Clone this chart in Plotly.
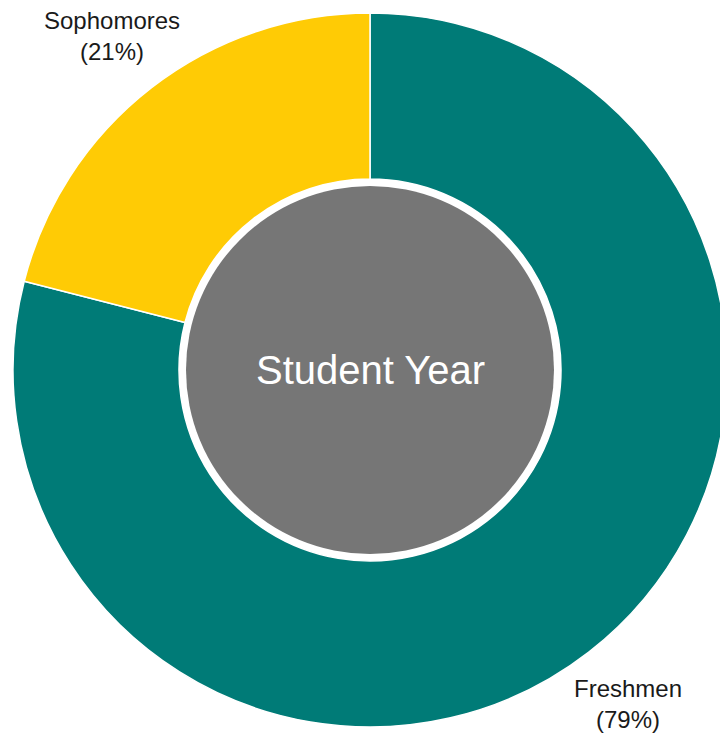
import plotly.graph_objects as go

labels = ["Freshmen", "Sophomores"]
values = [79, 21]
colors = ["#007B77", "#FFCB05"]
center_title = "Student Year"

# page has an 8px body margin; figure coordinates are page coordinates minus 8
OFF = 8
W, H = 720, 731
cx, cy, R = 370 - OFF, 370 - OFF, 357
hole_r = 191
inner_r = 184

fig = go.Figure(go.Pie(
    labels=labels,
    values=values,
    sort=False,
    direction="clockwise",
    rotation=0,
    hole=hole_r / R,
    marker=dict(colors=colors, line=dict(color="white", width=1.5)),
    textinfo="none",
    hoverinfo="label+percent",
    showlegend=False,
    domain=dict(x=[(cx - R) / W, (cx + R) / W], y=[1 - (cy + R) / H, 1 - (cy - R) / H]),
))

fig.add_shape(type="circle", xref="paper", yref="paper",
              x0=(cx - inner_r) / W, x1=(cx + inner_r) / W,
              y0=1 - (cy + inner_r) / H, y1=1 - (cy - inner_r) / H,
              fillcolor="#767676", line=dict(width=0), layer="above")

fig.add_annotation(text=center_title, xref="paper", yref="paper",
                   x=cx / W, y=1 - cy / H, showarrow=False,
                   font=dict(family="Liberation Sans, Arial", size=40, color="white"),
                   xanchor="center", yanchor="middle")

label_pos = [(628 - OFF, 704 - OFF), (112 - OFF, 36 - OFF)]
total = sum(values)
for lab, val, (px, py) in zip(labels, values, label_pos):
    fig.add_annotation(text=f"{lab}<br>({round(100 * val / total)}%)", xref="paper", yref="paper",
                       x=px / W, y=1 - py / H, showarrow=False,
                       font=dict(family="Liberation Sans, Arial", size=24, color="#1a1a1a"),
                       xanchor="center", yanchor="middle", align="center")

fig.update_layout(width=W, height=H, margin=dict(l=0, r=0, t=0, b=0),
                  paper_bgcolor="white", plot_bgcolor="white")

fig.write_html("out.html")
